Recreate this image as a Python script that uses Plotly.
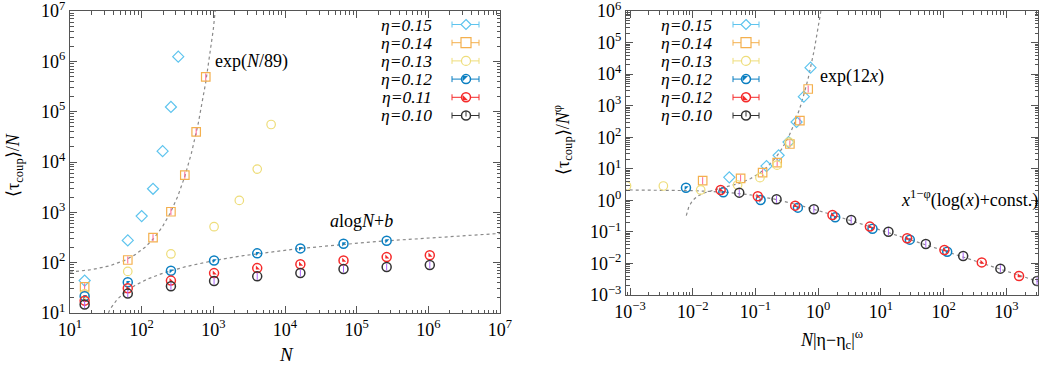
import numpy as np
import plotly.graph_objects as go

W, H = 1052, 365

# ---------------- data: left panel  <tau>/N vs N ----------------
N_015 = [16, 64, 100, 144, 196, 256, 324]
T_015 = [44, 277, 843, 2940, 16400, 124000, 1.24e6]
N_014 = [16, 64, 144, 256, 400, 576, 784]
T_014 = [33, 113, 313, 1028, 5490, 39800, 490000]
N_013 = [16, 64, 256, 1024, 2304, 4096, 6400]
T_013 = [24, 67, 149, 518, 1726, 7220, 55600]
N_012 = [16, 64, 256, 1024, 4096, 16384, 65536, 262144]
T_012 = [21.5, 40.7, 69, 110, 153, 192, 238, 273]
N_011 = [16, 64, 256, 1024, 4096, 16384, 65536, 262144, 1048576]
T_011 = [17.6, 31, 44, 62, 78, 92.7, 111, 129, 140]
N_010 = [16, 64, 256, 1024, 4096, 16384, 65536, 262144, 1048576]
T_010 = [14.7, 24.3, 33.9, 43.2, 53.5, 62.4, 74.8, 82, 90]

# ---------------- data: right panel  scaling collapse ----------------
X_015 = [0.0383, 0.150, 0.234, 0.337, 0.452, 0.591, 0.755]
Y_015 = [5.36, 12.2, 26.7, 70, 304, 1930, 16000]
X_014 = [0.0144, 0.058, 0.130, 0.222, 0.354, 0.511, 0.693]
Y_014 = [4.2, 4.98, 7.5, 15.6, 61, 335, 3375]
X_013 = [0.00088, 0.0034, 0.0134, 0.0519, 0.118, 0.221, 0.345]
Y_013 = [2.85, 2.85, 2.13, 3.06, 5.23, 13, 70]
X_012 = [0.0078, 0.0307, 0.121, 0.475, 1.87, 7.34, 28.9, 114]
Y_012 = [2.52, 1.80, 1.03, 0.586, 0.29, 0.126, 0.0568, 0.0236]
X_011 = [0.0279, 0.109, 0.43, 1.69, 6.67, 26.2, 103, 406, 1596]
Y_011 = [2.13, 1.34, 0.678, 0.343, 0.147, 0.0625, 0.0267, 0.0108, 0.0040]
X_010 = [0.0552, 0.217, 0.854, 3.36, 13.2, 52, 205, 804, 3090]
Y_010 = [1.75, 1.08, 0.519, 0.238, 0.1016, 0.0413, 0.0172, 0.00684, 0.00278]

LEFT_LABELS = ["η=0.15", "η=0.14", "η=0.13", "η=0.12", "η=0.11", "η=0.10"]
RIGHT_LABELS = ["η=0.15", "η=0.14", "η=0.13", "η=0.12", "η=0.12", "η=0.10"]

# fit parameters
EXP_A, EXP_SCALE = 58.0, 89.0          # A*exp(N/89)
LOG_A, LOG_B = 29.4, -93.7             # a*ln N + b
EXP12_A, EXP12_C = 1.8, 1.03e-4        # exp(12x) branch
PW_A, PW_X0, PW_P = 2.15, 0.109, 0.65  # decaying branch

COL = {"c": "#5EC4EE", "o": "#F4B04E", "y": "#EEDD7A",
       "b": "#0B7FC1", "r": "#F52A2A", "k": "#333333"}
FIT_COL = "#8A8A8A"
SERIF = "Liberation Serif"

fig = go.Figure()

# ---------------- fit curves ----------------
Ng = np.logspace(1, 3.2, 400)
fig.add_trace(go.Scatter(x=Ng, y=EXP_A * np.exp(Ng / EXP_SCALE), mode="lines",
                         line=dict(color=FIT_COL, width=1.2, dash="dot"),
                         xaxis="x", yaxis="y", showlegend=False, hoverinfo="skip"))
Ng2 = np.logspace(1.5, 7, 400)
yl = LOG_A * np.log(Ng2) + LOG_B
fig.add_trace(go.Scatter(x=Ng2, y=np.where(yl > 0, yl, np.nan), mode="lines",
                         line=dict(color=FIT_COL, width=1.2, dash="dot"),
                         xaxis="x", yaxis="y", showlegend=False, hoverinfo="skip"))
xg = np.logspace(np.log10(0.0079), 0.1, 400)
fig.add_trace(go.Scatter(x=xg, y=EXP12_A * np.exp(12 * xg) - EXP12_C / xg**2, mode="lines",
                         line=dict(color=FIT_COL, width=1.2, dash="dot"),
                         xaxis="x2", yaxis="y2", showlegend=False, hoverinfo="skip"))
xg2 = np.logspace(-3.1, 3.6, 400)
fig.add_trace(go.Scatter(x=xg2, y=PW_A * (1 + xg2 / PW_X0) ** (-PW_P), mode="lines",
                         line=dict(color=FIT_COL, width=1.2, dash="dot"),
                         xaxis="x2", yaxis="y2", showlegend=False, hoverinfo="skip"))


def add_series(x, y, kind, xa, ya):
    ring = dict(size=8.5, line=dict(width=1.2))
    if kind == "c":
        m = dict(symbol="diamond-open", color=COL["c"], **ring)
    elif kind == "o":
        m = dict(symbol="square-open", color=COL["o"], **ring)
    elif kind == "y":
        m = dict(symbol="circle-open", color=COL["y"], **ring)
    else:
        m = dict(symbol="circle-open", color=COL[kind], size=9, line=dict(width=1.5))
    fig.add_trace(go.Scatter(x=x, y=y, mode="markers", marker=m, xaxis=xa, yaxis=ya,
                             showlegend=False, cliponaxis=True))
    if kind == "b":
        fig.add_trace(go.Scatter(x=x, y=y, mode="markers", xaxis=xa, yaxis=ya, showlegend=False,
                                 marker=dict(symbol="triangle-nw", size=4.5, color=COL["b"],
                                             line=dict(width=0))))
    if kind == "r":
        fig.add_trace(go.Scatter(x=x, y=y, mode="markers", xaxis=xa, yaxis=ya, showlegend=False,
                                 marker=dict(symbol="triangle-sw", size=4.5, color=COL["r"],
                                             line=dict(width=0))))
    if kind in ("k", "o"):
        fig.add_trace(go.Scatter(x=x, y=y, mode="markers", xaxis=xa, yaxis=ya, showlegend=False,
                                 marker=dict(symbol="line-ns-open", size=5,
                                             line=dict(width=1, color=COL[kind]))))


add_series(N_015, T_015, "c", "x", "y")
add_series(N_014, T_014, "o", "x", "y")
add_series(N_013, T_013, "y", "x", "y")
add_series(N_012, T_012, "b", "x", "y")
add_series(N_011, T_011, "r", "x", "y")
add_series(N_010, T_010, "k", "x", "y")

add_series(X_015, Y_015, "c", "x2", "y2")
add_series(X_014, Y_014, "o", "x2", "y2")
add_series(X_013, Y_013, "y", "x2", "y2")
add_series(X_012, Y_012, "b", "x2", "y2")
add_series(X_011, Y_011, "r", "x2", "y2")
add_series(X_010, Y_010, "k", "x2", "y2")


# ---------------- axes ----------------
def sup(k):
    s = str(k).replace("-", "−")
    return f"10<sup>{s}</sup>"


def log_axis(lo, hi, rng, domain, anchor):
    exps = list(range(lo, hi + 1))
    minor = [m * 10.0**e for e in range(lo - 1, hi + 1) for m in range(2, 10)]
    return dict(type="log", range=rng, domain=domain, anchor=anchor, automargin=False,
                tickmode="array", tickvals=[10.0**e for e in exps],
                ticktext=[sup(e) for e in exps], ticklabeloverflow="allow",
                ticks="inside", ticklen=7, tickwidth=1, tickcolor="#555",
                showline=True, linecolor="#555", linewidth=1, mirror="allticks",
                showgrid=False, zeroline=False,
                tickfont=dict(family=SERIF, size=18, color="black"),
                minor=dict(tickmode="array", tickvals=minor, ticks="inside",
                           ticklen=3.5, tickcolor="#555", showgrid=False))


def px(x):
    return x / W


def py(y):
    return 1 - y / H


fig.update_layout(
    width=W, height=H, margin=dict(l=0, r=0, t=0, b=0, autoexpand=False),
    paper_bgcolor="white", plot_bgcolor="white", showlegend=False,
    xaxis=log_axis(1, 7, [0.9999, 7.0001], [px(70), px(500)], "y"),
    yaxis=log_axis(1, 7, [0.9999, 7.0001], [py(313), py(11)], "x"),
    xaxis2=log_axis(-3, 3, [-3.064, 3.505], [px(626), px(1038)], "y2"),
    yaxis2=log_axis(-3, 6, [-3.0001, 6.0001], [py(295), py(11)], "x2"),
)

annos = []
shapes = []


def text(x, y, s, size=18, xanchor="center", angle=0):
    annos.append(dict(x=px(x), y=py(y), xref="paper", yref="paper", text=s, showarrow=False,
                      xanchor=xanchor, yanchor="middle", textangle=angle,
                      font=dict(family=SERIF, size=size, color="black")))


# axis titles
text(286, 354, "<i>N</i>", 19)
text(14, 165, "⟨τ<sub>coup</sub>⟩/<i>N</i>", 18, angle=-90)
text(831, 339, "<i>N</i>|η−η<sub>c</sub>|<sup>ω</sup>", 18)
text(562, 140, "⟨τ<sub>coup</sub>⟩/<i>N</i><sup>φ</sup>", 18, angle=-90)

# fit labels
text(213, 62, "exp(<i>N</i>/89)", 18, "left")
text(328, 221, "<i>a</i>log<i>N</i>+<i>b</i>", 18, "left")
text(818, 76, "exp(12<i>x</i>)", 18, "left")
text(899, 199, "<i>x</i><sup>1−φ</sup>(log(<i>x</i>)+const.)", 18, "left")


# ---------------- custom legends (gnuplot style: text then sample) ----------------
def P(x, y):
    return f"{px(x):.6f},{py(y):.6f}"


def glyph(kind, cx, cy):
    c = COL[kind]
    if kind == "c":
        r = 5
        shapes.append(dict(type="path", xref="paper", yref="paper",
                           path=f"M{P(cx, cy - r)} L{P(cx + r, cy)} L{P(cx, cy + r)} L{P(cx - r, cy)} Z",
                           fillcolor="white", line=dict(color=c, width=1.2)))
    elif kind == "o":
        r = 5
        shapes.append(dict(type="rect", xref="paper", yref="paper",
                           x0=px(cx - r), x1=px(cx + r), y0=py(cy + r), y1=py(cy - r),
                           fillcolor="white", line=dict(color=c, width=1.2)))
    else:
        r = 4.5
        shapes.append(dict(type="circle", xref="paper", yref="paper",
                           x0=px(cx - r), x1=px(cx + r), y0=py(cy + r), y1=py(cy - r),
                           fillcolor="white", line=dict(color=c, width=1.2 if kind == "y" else 1.5)))
        if kind == "b":
            shapes.append(dict(type="path", xref="paper", yref="paper",
                               path=f"M{P(cx - 3.5, cy - 3)} L{P(cx + 2, cy - 3)} L{P(cx - 3.5, cy + 2.5)} Z",
                               fillcolor=c, line=dict(width=0)))
        if kind == "r":
            shapes.append(dict(type="path", xref="paper", yref="paper",
                               path=f"M{P(cx - 3.5, cy + 3)} L{P(cx + 2, cy + 3)} L{P(cx - 3.5, cy - 2.5)} Z",
                               fillcolor=c, line=dict(width=0)))
        if kind == "k":
            shapes.append(dict(type="line", xref="paper", yref="paper",
                               x0=px(cx), x1=px(cx), y0=py(cy - 4), y1=py(cy + 1),
                               line=dict(color=c, width=1)))


def legend(labels, text_right, x0, x1, mx):
    kinds = ["c", "o", "y", "b", "r", "k"]
    for i, (lab, k) in enumerate(zip(labels, kinds)):
        y = 24.5 + 18.2 * i
        text(text_right, y, f"<i>{lab}</i>", 17.5, "right")
        shapes.append(dict(type="line", xref="paper", yref="paper", x0=px(x0), x1=px(x1),
                           y0=py(y), y1=py(y), line=dict(color=COL[k], width=1)))
        for xe in (x0, x1):
            shapes.append(dict(type="line", xref="paper", yref="paper", x0=px(xe), x1=px(xe),
                               y0=py(y - 3), y1=py(y + 3), line=dict(color=COL[k], width=1)))
        glyph(k, mx, y)


legend(LEFT_LABELS, 434, 452, 479, 466)
legend(RIGHT_LABELS, 714, 733, 759, 746)

fig.update_layout(annotations=annos, shapes=shapes)
fig.write_html("out.html", config={"displayModeBar": False},
               post_script="document.body.style.margin='0';document.body.style.overflow='hidden';")
